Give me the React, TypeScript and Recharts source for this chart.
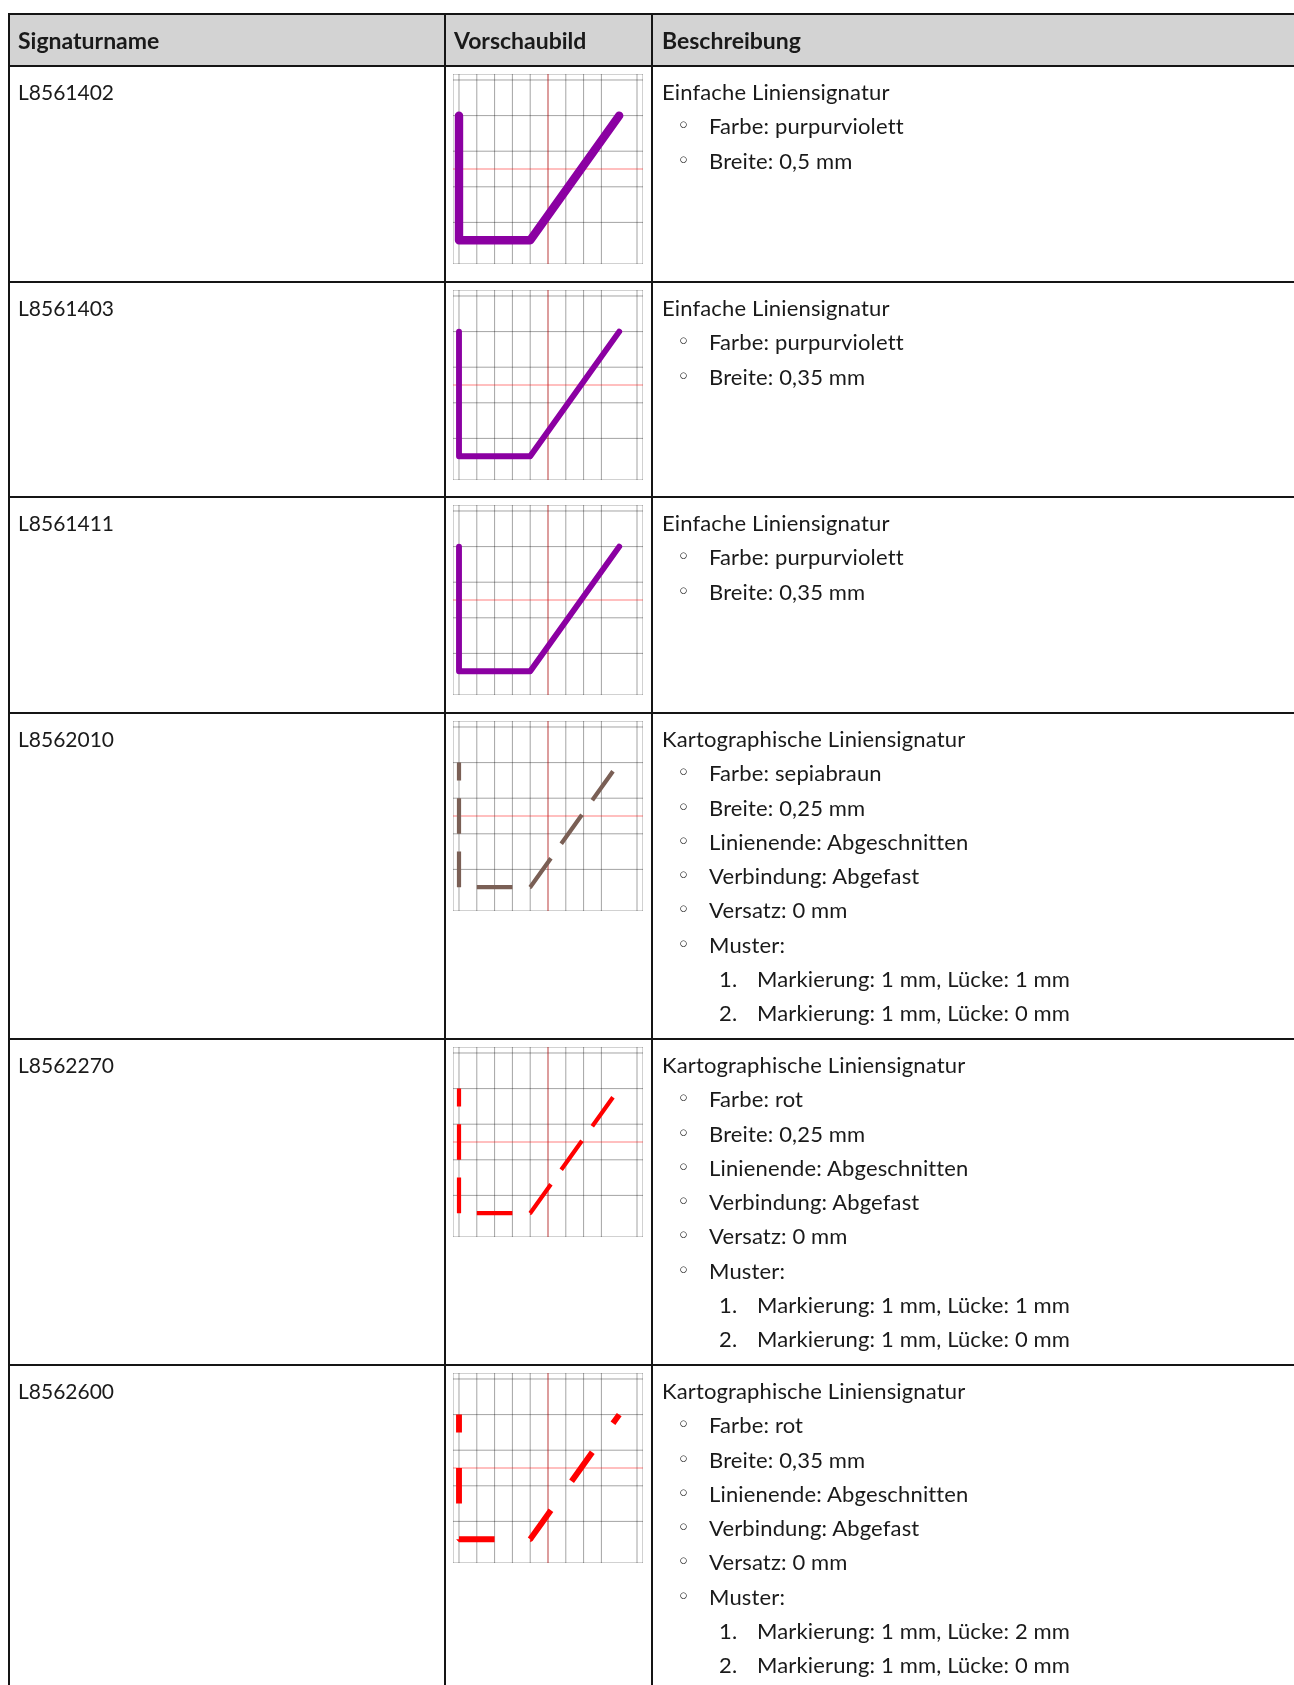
import React from "react";
import { CartesianGrid, Line, LineChart, ReferenceLine, XAxis, YAxis } from "recharts";

const signatureNames = ["L8561402", "L8561403", "L8561411", "L8562010", "L8562270", "L8562600"];
const signatureKinds = [
  "Einfache Liniensignatur",
  "Einfache Liniensignatur",
  "Einfache Liniensignatur",
  "Kartographische Liniensignatur",
  "Kartographische Liniensignatur",
  "Kartographische Liniensignatur",
];
const colorNames = ["purpurviolett", "purpurviolett", "purpurviolett", "sepiabraun", "rot", "rot"];
const widthsMm = [0.5, 0.35, 0.35, 0.25, 0.25, 0.35];
const lineEnds = [null, null, null, "Abgeschnitten", "Abgeschnitten", "Abgeschnitten"];
const joins = [null, null, null, "Abgefast", "Abgefast", "Abgefast"];
const offsetsMm = [null, null, null, 0, 0, 0];
// Muster: Markierung / Lücke in mm, one pair per step
const markMm = [null, null, null, [1, 1], [1, 1], [1, 1]];
const gapMm = [null, null, null, [1, 0], [1, 0], [2, 0]];

// preview path in grid units
const pathX = [0, 0, 4, 9];
const pathY = [8, 1, 1, 8];
const gridTicks = [0, 1, 2, 3, 4, 5, 6, 7, 8, 9, 10];
const axisCenter = 5;

const colorHex: Record<string, string> = {
  purpurviolett: "#8b00a2",
  sepiabraun: "#7a5f55",
  rot: "#ff0000",
};

const PREVIEW = 190;
const PAD = 0.337;
const PX_PER_MM = PREVIEW / (10 + 2 * PAD);
const strokePx = (mm: number) => mm * 16.8;
const BORDER = "2px solid #151515";
const LINE_H = 34.3;
const ROW_HEIGHTS = [216, 215, 216, 326, 326, 326];

const fmt = (n: number) => n.toLocaleString("de-DE");

function Preview({ index }: { index: number }) {
  const data = pathX.map((x, i) => ({ x, y: pathY[i] }));
  const marks = markMm[index];
  const gaps = gapMm[index];
  const dash = marks && gaps
    ? marks.flatMap((m, i) => [m * PX_PER_MM, gaps[i] * PX_PER_MM]).join(" ")
    : undefined;
  const simple = !marks;
  return (
    <LineChart width={PREVIEW} height={PREVIEW} data={data} margin={{ top: 0, right: 0, bottom: 0, left: 0 }}>
      <XAxis type="number" dataKey="x" domain={[-PAD, 10 + PAD]} ticks={gridTicks} allowDataOverflow hide />
      <YAxis type="number" dataKey="y" domain={[-PAD, 10 + PAD]} ticks={gridTicks} allowDataOverflow hide />
      <CartesianGrid stroke="#000" strokeOpacity={0.36} strokeWidth={1} />
      <ReferenceLine x={axisCenter} stroke="#ff0000" strokeOpacity={0.5} />
      <ReferenceLine y={axisCenter} stroke="#ff0000" strokeOpacity={0.5} />
      <Line
        type="linear"
        dataKey="y"
        stroke={colorHex[colorNames[index]]}
        strokeWidth={strokePx(widthsMm[index])}
        strokeDasharray={dash}
        strokeLinecap={simple ? "round" : "butt"}
        strokeLinejoin={simple ? "round" : "bevel"}
        dot={false}
        activeDot={false}
        isAnimationActive={false}
      />
    </LineChart>
  );
}

type DescLine = { text: string; marker?: string; level: number };

function describe(i: number): DescLine[] {
  const lines: DescLine[] = [{ text: signatureKinds[i], level: 0 }];
  lines.push({ text: `Farbe: ${colorNames[i]}`, marker: "◦", level: 1 });
  lines.push({ text: `Breite: ${fmt(widthsMm[i])} mm`, marker: "◦", level: 1 });
  if (lineEnds[i]) lines.push({ text: `Linienende: ${lineEnds[i]}`, marker: "◦", level: 1 });
  if (joins[i]) lines.push({ text: `Verbindung: ${joins[i]}`, marker: "◦", level: 1 });
  if (offsetsMm[i] !== null) lines.push({ text: `Versatz: ${fmt(offsetsMm[i] as number)} mm`, marker: "◦", level: 1 });
  const marks = markMm[i];
  const gaps = gapMm[i];
  if (marks && gaps) {
    lines.push({ text: "Muster:", marker: "◦", level: 1 });
    marks.forEach((m, k) =>
      lines.push({ text: `Markierung: ${fmt(m)} mm, Lücke: ${fmt(gaps[k])} mm`, marker: `${k + 1}.`, level: 2 })
    );
  }
  return lines;
}

const cell = (width: number | undefined, extra: React.CSSProperties = {}): React.CSSProperties => ({
  boxSizing: "border-box",
  width,
  flex: width ? "none" : 1,
  borderRight: BORDER,
  borderBottom: BORDER,
  ...extra,
});

export default function App() {
  return (
    <div
      style={{
        position: "fixed",
        left: 8,
        top: 13,
        right: 0,
        bottom: 0,
        overflow: "hidden",
        fontFamily: "Lato, 'Noto Sans', sans-serif",
        fontSize: 22,
        lineHeight: `${LINE_H}px`,
        color: "#1a1a1a",
      }}
    >
      <div style={{ width: 1400, borderTop: BORDER, borderLeft: BORDER }}>
        <div style={{ display: "flex", height: 52, background: "#d3d3d3", fontWeight: 700, fontSize: 23 }}>
          <div style={cell(436, { padding: "8px 8px" })}>Signaturname</div>
          <div style={cell(207, { padding: "8px 8px" })}>Vorschaubild</div>
          <div style={cell(undefined, { padding: "8px 9px" })}>Beschreibung</div>
        </div>
        {signatureNames.map((name, i) => (
          <div key={name} style={{ display: "flex", height: ROW_HEIGHTS[i] }}>
            <div style={cell(436, { padding: "8px 8px", fontSize: 21 })}>{name}</div>
            <div style={cell(207, { padding: "7px 0 0 7px" })}>
              <Preview index={i} />
            </div>
            <div style={cell(undefined, { padding: "8px 9px", letterSpacing: 0.15 })}>
              {describe(i).map((ln, k) => (
                <div
                  key={k}
                  style={{
                    position: "relative",
                    height: LINE_H,
                    paddingLeft: ln.level === 0 ? 0 : ln.level === 1 ? 47 : 95,
                    whiteSpace: "nowrap",
                  }}
                >
                  {ln.marker && ln.level === 1 && (
                    <span style={{ position: "absolute", left: 15, top: 0, fontSize: 22, fontFamily: "'DejaVu Sans', sans-serif" }}>
                      {ln.marker}
                    </span>
                  )}
                  {ln.marker && ln.level === 2 && (
                    <span style={{ position: "absolute", left: 57 }}>{ln.marker}</span>
                  )}
                  {ln.text}
                </div>
              ))}
            </div>
          </div>
        ))}
      </div>
    </div>
  );
}
